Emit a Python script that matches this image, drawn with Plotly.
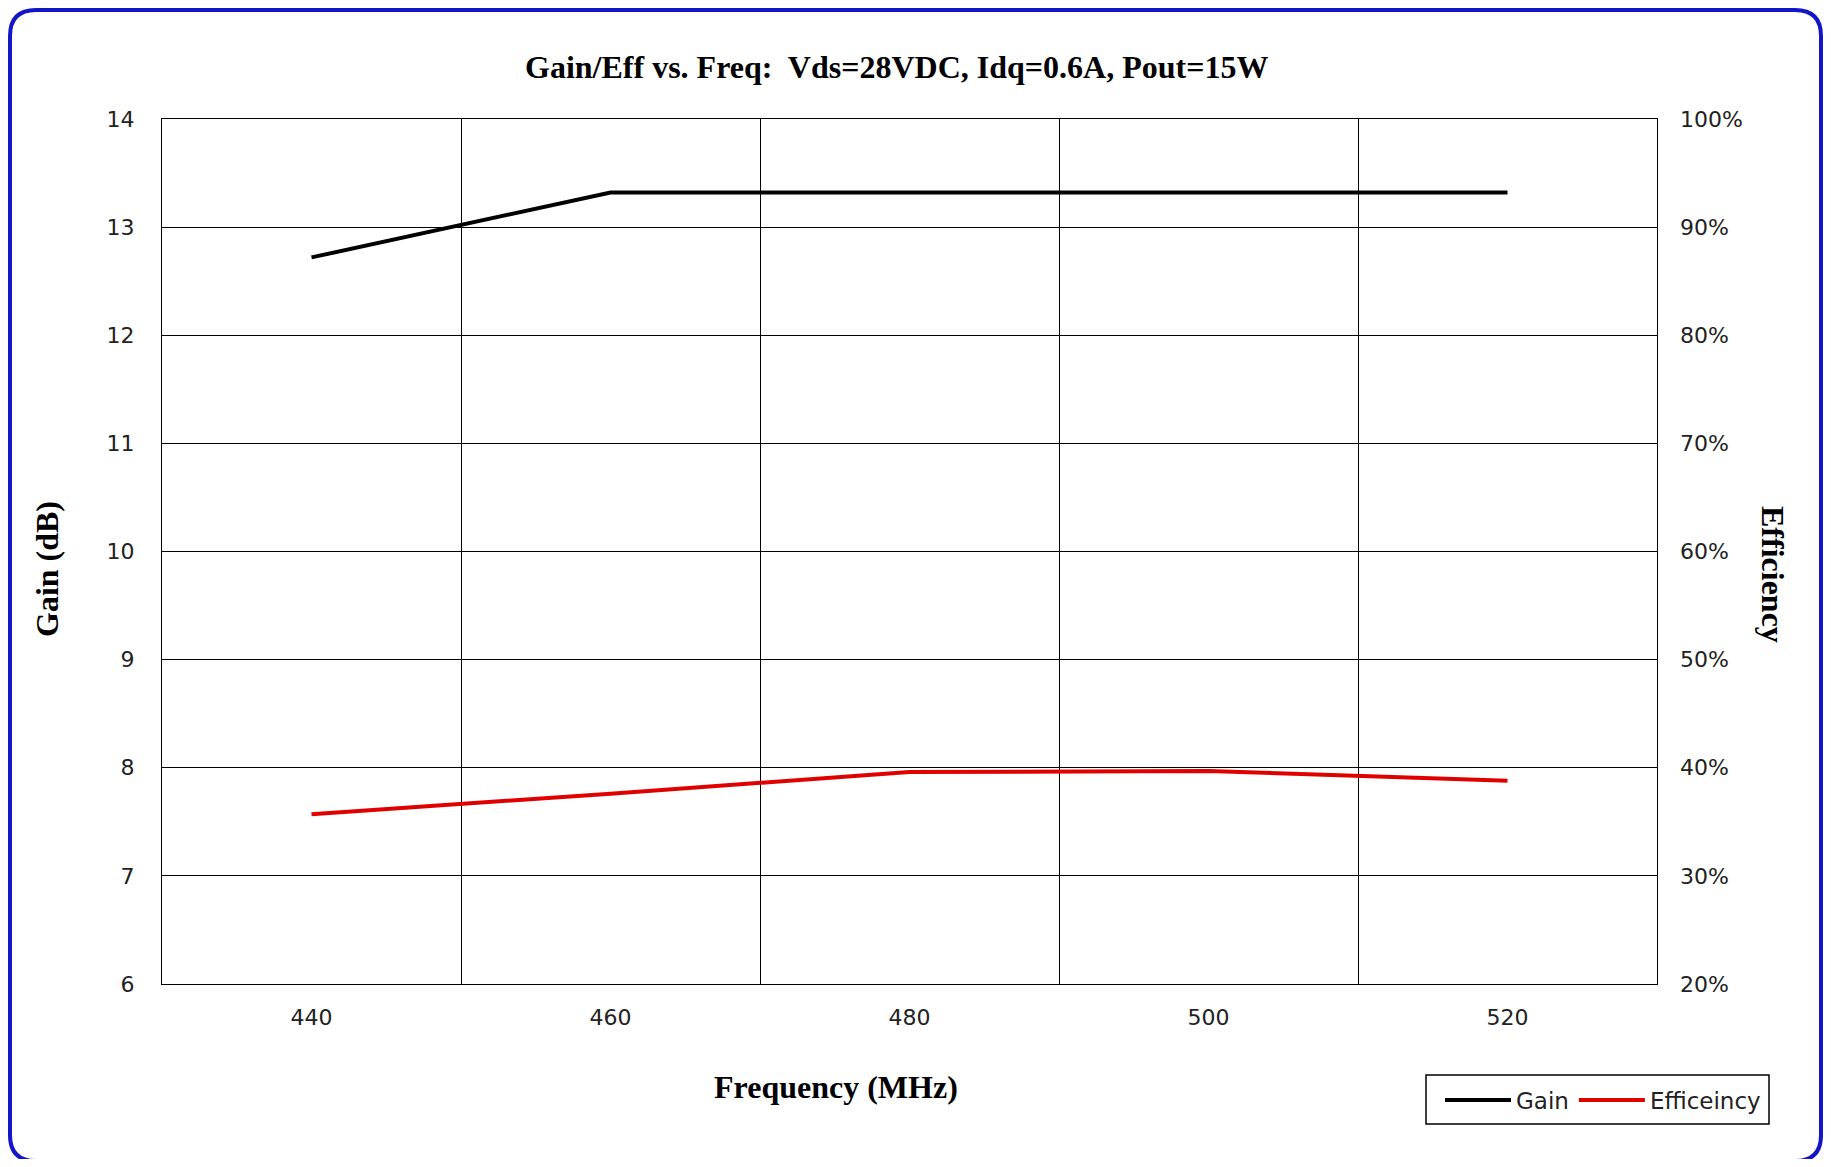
import plotly.graph_objects as go

freq = [440, 460, 480, 500, 520]
gain_db = [12.72, 13.32, 13.32, 13.32, 13.32]
efficiency = [0.357, 0.376, 0.396, 0.397, 0.388]

title_text = "Gain/Eff vs. Freq:  Vds=28VDC, Idq=0.6A, Pout=15W"
x_title = "Frequency (MHz)"
y_title = "Gain (dB)"
y2_title = "Efficiency"
series_names = ["Gain", "Efficeincy"]

# page has an 8px body margin; work in page pixel coordinates
OFF = 8
W, H = 1831 - 2 * OFF, 1167 - 2 * OFF
PL, PR, PT, PB = 162, 1657, 119, 984  # plot area in page pixels
ML, MR, MT, MB = PL - OFF, (W + OFF) - PR, PT - OFF, (H + OFF) - PB
PW, PH = PR - PL, PB - PT

def px(x):
    return (x - PL) / PW

def py(y):
    return (PB - y) / PH

serif = "Liberation Serif"
sans = "DejaVu Sans"
tick_font = dict(family=sans, size=22, color="#222")
title_font = dict(family=serif, size=32, color="black")

fig = go.Figure()
fig.add_trace(go.Scatter(x=freq, y=gain_db, mode="lines", name=series_names[0],
                         line=dict(color="black", width=4)))
fig.add_trace(go.Scatter(x=freq, y=efficiency, mode="lines", name=series_names[1],
                         yaxis="y2", line=dict(color="#e00000", width=4)))

# rounded blue frame
x0, y0, x1, y1, r = 10, 10, 1821, 1161, 26
path = (f"M {px(x0+r)},{py(y0)} L {px(x1-r)},{py(y0)} Q {px(x1)},{py(y0)} {px(x1)},{py(y0+r)} "
        f"L {px(x1)},{py(y1-r)} Q {px(x1)},{py(y1)} {px(x1-r)},{py(y1)} "
        f"L {px(x0+r)},{py(y1)} Q {px(x0)},{py(y1)} {px(x0)},{py(y1-r)} "
        f"L {px(x0)},{py(y0+r)} Q {px(x0)},{py(y0)} {px(x0+r)},{py(y0)} Z")

fig.update_layout(
    width=W, height=H,
    margin=dict(l=ML, r=MR, t=MT, b=MB, pad=0),
    paper_bgcolor="white", plot_bgcolor="white",
    showlegend=True,
    legend=dict(orientation="h", x=px(1440), y=py(1100), xanchor="left", yanchor="middle",
                borderwidth=0, bgcolor="rgba(0,0,0,0)",
                font=dict(family=sans, size=23, color="#222"),
                itemwidth=66, tracegroupgap=0),
    xaxis=dict(range=[430, 530], tickvals=freq, showgrid=False,
               showline=True, linecolor="black", linewidth=1, mirror=True,
               ticks="", ticklabelstandoff=14, zeroline=False, tickfont=tick_font,
               minor=dict(showgrid=True, gridcolor="black", gridwidth=1, tick0=450, dtick=20)),
    yaxis=dict(range=[6, 14], dtick=1, showgrid=True, gridcolor="black", gridwidth=1,
               showline=True, linecolor="black", linewidth=1, mirror=True,
               ticks="", ticklabelstandoff=22, zeroline=False, tickfont=tick_font),
    yaxis2=dict(range=[0.2, 1.0], dtick=0.1, tickformat=".0%", overlaying="y", side="right",
                showgrid=False, showline=False, ticks="", ticklabelstandoff=22, zeroline=False,
                tickfont=tick_font),
    shapes=[
        dict(type="path", path=path, xref="paper", yref="paper",
             line=dict(color="#1414c8", width=4), layer="above"),
        dict(type="rect", xref="paper", yref="paper",
             x0=px(1426), x1=px(1769), y0=py(1124), y1=py(1075),
             line=dict(color="black", width=1.5), fillcolor="rgba(0,0,0,0)", layer="above"),
    ],
    annotations=[
        dict(text=f"<b>{title_text}</b>", x=px(896), y=py(67), xref="paper", yref="paper",
             xanchor="center", yanchor="middle", showarrow=False, font=title_font),
        dict(text=f"<b>{x_title}</b>", x=px(836), y=py(1087), xref="paper", yref="paper",
             xanchor="center", yanchor="middle", showarrow=False, font=title_font),
        dict(text=f"<b>{y_title}</b>", x=px(47), y=py(569), xref="paper", yref="paper",
             xanchor="center", yanchor="middle", showarrow=False, textangle=-90, font=title_font),
        dict(text=f"<b>{y2_title}</b>", x=px(1773), y=py(574), xref="paper", yref="paper",
             xanchor="center", yanchor="middle", showarrow=False, textangle=90, font=title_font),
    ],
)

fig.write_html("out.html")
